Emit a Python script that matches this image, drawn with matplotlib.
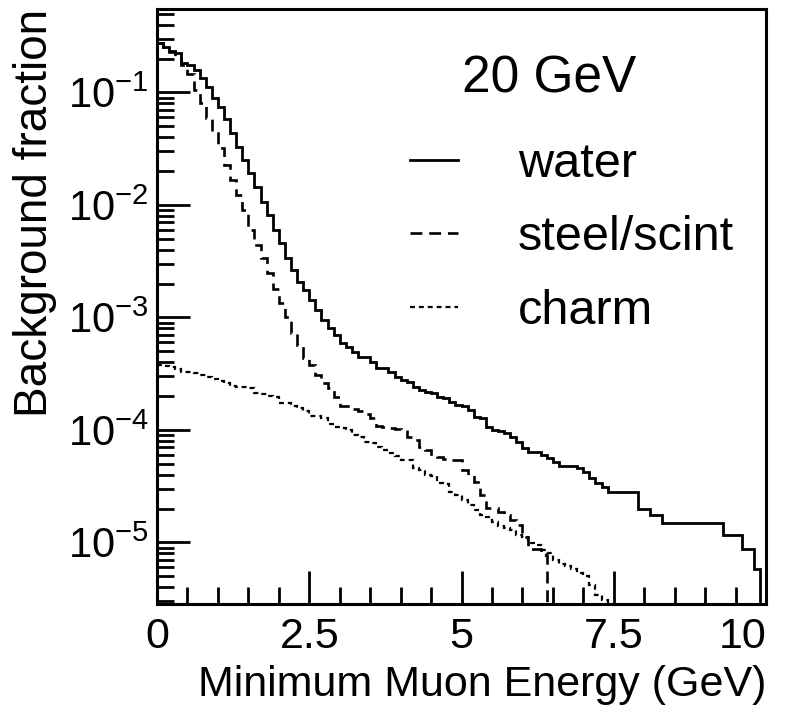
import numpy as np
import matplotlib
matplotlib.use("Agg")
import matplotlib.pyplot as plt
from matplotlib.ticker import FixedLocator, LogLocator, NullFormatter, FuncFormatter
from matplotlib.lines import Line2D

# ---------------- data ----------------
bin_edges = np.linspace(0.0, 10.0, 101)   # GeV, 0.1 GeV bins

water = [
    0.275, 0.254, 0.234, 0.224, 0.183, 0.176, 0.158, 0.135, 0.112, 0.0894,
    0.0743, 0.0581, 0.0437, 0.0328, 0.0251, 0.0193, 0.0145, 0.0106, 0.00815, 0.00599,
    0.0046, 0.00338, 0.00264, 0.00207, 0.00176, 0.00143, 0.00117, 0.00095, 0.000807, 0.000699,
    0.000593, 0.000547, 0.000494, 0.000446, 0.000446, 0.000402, 0.000356, 0.000356, 0.000328, 0.000296,
    0.000278, 0.000267, 0.000241, 0.000227, 0.000217, 0.000213, 0.000196, 0.000192, 0.000177, 0.000167,
    0.000164, 0.000150, 0.000131, 0.000128, 0.000106, 0.000100, 9.8e-5, 9.4e-5, 8.67e-5, 7.82e-5,
    6.92e-5, 6.38e-5, 6.38e-5, 5.99e-5, 5.64e-5, 5.19e-5, 4.79e-5, 4.79e-5, 4.79e-5, 4.6e-5,
    4.23e-5, 3.74e-5, 3.38e-5, 3.1e-5, 2.81e-5, 2.81e-5, 2.81e-5, 2.81e-5, 2.81e-5, 1.99e-5,
    1.99e-5, 1.76e-5, 1.76e-5, 1.49e-5, 1.49e-5, 1.49e-5, 1.49e-5, 1.49e-5, 1.49e-5, 1.49e-5,
    1.49e-5, 1.49e-5, 1.49e-5, 1.17e-5, 1.17e-5, 1.17e-5, 8.75e-6, 8.75e-6, 5.81e-6, 0.0,
]

steel_scint = [
    0.275, 0.254, 0.229, 0.211, 0.176, 0.146, 0.105, 0.0807, 0.0593, 0.0437,
    0.0321, 0.0227, 0.0167, 0.0123, 0.00903, 0.00599, 0.00441, 0.00338, 0.00249, 0.00179,
    0.00135, 0.00101, 0.000728, 0.000569, 0.000437, 0.000378, 0.000308, 0.000262, 0.000236, 0.000196,
    0.000164, 0.000164, 0.000154, 0.000148, 0.000139, 0.000128, 0.000109, 0.000106, 0.000104, 0.000102,
    0.000100, 8.67e-5, 8.15e-5, 7.06e-5, 6.64e-5, 5.87e-5, 5.75e-5, 5.52e-5, 5.41e-5, 5.41e-5,
    4.41e-5, 3.98e-5, 3.45e-5, 2.64e-5, 2.03e-5, 2.03e-5, 1.87e-5, 1.76e-5, 1.58e-5, 1.43e-5,
    1.12e-5, 8.75e-6, 8.75e-6, 7.74e-6, 0.0, 0.0, 0.0, 0.0, 0.0, 0.0,
    0.0, 0.0, 0.0, 0.0, 0.0, 0.0, 0.0, 0.0, 0.0, 0.0,
    0.0, 0.0, 0.0, 0.0, 0.0, 0.0, 0.0, 0.0, 0.0, 0.0,
    0.0, 0.0, 0.0, 0.0, 0.0, 0.0, 0.0, 0.0, 0.0, 0.0,
]

charm = [
    0.000378, 0.00037, 0.000363, 0.000348, 0.000328, 0.000328, 0.000321, 0.000308, 0.000296, 0.000284,
    0.000272, 0.000262, 0.000246, 0.000241, 0.000241, 0.000236, 0.000213, 0.000209, 0.000200, 0.000196,
    0.000174, 0.000174, 0.000164, 0.000157, 0.000148, 0.000133, 0.000133, 0.000128, 0.000113, 0.000106,
    0.000104, 0.000100, 9.03e-5, 8.67e-5, 7.82e-5, 7.66e-5, 7.06e-5, 6.64e-5, 6.25e-5, 5.87e-5,
    5.41e-5, 5.41e-5, 4.6e-5, 4.41e-5, 3.98e-5, 3.9e-5, 3.38e-5, 3.31e-5, 2.81e-5, 2.64e-5,
    2.39e-5, 2.15e-5, 1.95e-5, 1.76e-5, 1.69e-5, 1.52e-5, 1.40e-5, 1.35e-5, 1.29e-5, 1.17e-5,
    1.12e-5, 9.9e-6, 9.5e-6, 8.58e-6, 8.07e-6, 6.99e-6, 6.44e-6, 6.18e-6, 5.81e-6, 5.36e-6,
    5.04e-6, 4.19e-6, 3.42e-6, 3.08e-6, 0.0, 0.0, 0.0, 0.0, 0.0, 0.0,
    0.0, 0.0, 0.0, 0.0, 0.0, 0.0, 0.0, 0.0, 0.0, 0.0,
    0.0, 0.0, 0.0, 0.0, 0.0, 0.0, 0.0, 0.0, 0.0, 0.0,
]

series_labels = ["water", "steel/scint", "charm"]
title_text = "20 GeV"
x_ticks = [0, 2.5, 5, 7.5, 10]
x_tick_labels = ["0", "2.5", "5", "7.5", "10"]
y_decades = [1e-5, 1e-4, 1e-3, 1e-2, 1e-1]
x_label = "Minimum Muon Energy (GeV)"
y_label = "Background fraction"

# ---------------- style ----------------
REG = ["Liberation Sans", "DejaVu Sans"]
plt.rcParams["font.family"] = REG
plt.rcParams["mathtext.fontset"] = "custom"
plt.rcParams["mathtext.rm"] = "Liberation Sans"
plt.rcParams["mathtext.it"] = "Liberation Sans"
plt.rcParams["mathtext.bf"] = "Liberation Sans"

fig = plt.figure(figsize=(7.88, 7.23), dpi=100)
ax = fig.add_axes([157 / 788, (723 - 604) / 723, (766 - 157) / 788, (604 - 9) / 723])

def plotable(v):
    a = np.asarray(v, dtype=float)
    return np.where(a > 0, a, 1e-12)

lw = 2.0
ax.stairs(plotable(water), bin_edges, color="black", lw=lw, linestyle="-", baseline=None)
ax.stairs(plotable(steel_scint), bin_edges, color="black", lw=1.9,
          linestyle=(0, (4.5, 2.6)), baseline=None)
ax.stairs(plotable(charm), bin_edges, color="black", lw=1.6,
          linestyle=(0, (2.2, 1.8)), baseline=None)

ax.set_yscale("log")
ax.set_xlim(0, 10)
ax.set_ylim(2.84e-6, 0.552)

ax.xaxis.set_major_locator(FixedLocator(x_ticks))
ax.set_xticklabels(x_tick_labels)
ax.xaxis.set_minor_locator(FixedLocator(np.arange(0, 10.01, 0.5)))
ax.yaxis.set_major_locator(FixedLocator(y_decades))
ax.yaxis.set_minor_locator(LogLocator(base=10, subs=np.arange(2, 10)))
ax.yaxis.set_minor_formatter(NullFormatter())
ax.yaxis.set_major_formatter(FuncFormatter(
    lambda v, p: r"$\mathregular{10^{%d}}$" % int(round(np.log10(v)))))

ax.tick_params(axis="both", which="both", direction="in", top=False, right=False,
               width=2.0)
ax.tick_params(axis="both", which="major", length=24)
ax.tick_params(axis="both", which="minor", length=12)
ax.tick_params(axis="x", which="major", pad=9)
ax.tick_params(axis="y", which="major", pad=6)
xt = ax.get_xticklabels()
for lab in xt:
    lab.set_fontsize(31)
xt[-1].set_horizontalalignment("right")
for lab in ax.get_yticklabels():
    lab.set_fontsize(30)

for sp in ax.spines.values():
    sp.set_linewidth(2.2)

ax.set_xlabel(x_label, fontsize=31, loc="right", labelpad=6)
ax.set_ylabel(y_label, fontsize=33, loc="top", labelpad=8)

ax.text(0.5008, 0.859, title_text, transform=ax.transAxes, fontsize=37,
        ha="left", va="baseline")

handles = [
    Line2D([], [], color="black", lw=lw, linestyle="-"),
    Line2D([], [], color="black", lw=1.9, linestyle=(0, (4.5, 2.6))),
    Line2D([], [], color="black", lw=1.6, linestyle=(0, (2.2, 1.8))),
]
ax.legend(handles, series_labels, loc="upper left", bbox_to_anchor=(0.4154, 0.776),
          frameon=False, fontsize=35, handlelength=0.99, handletextpad=1.23,
          labelspacing=0.58, borderpad=0, borderaxespad=0)

fig.savefig("out.png", dpi=100)
